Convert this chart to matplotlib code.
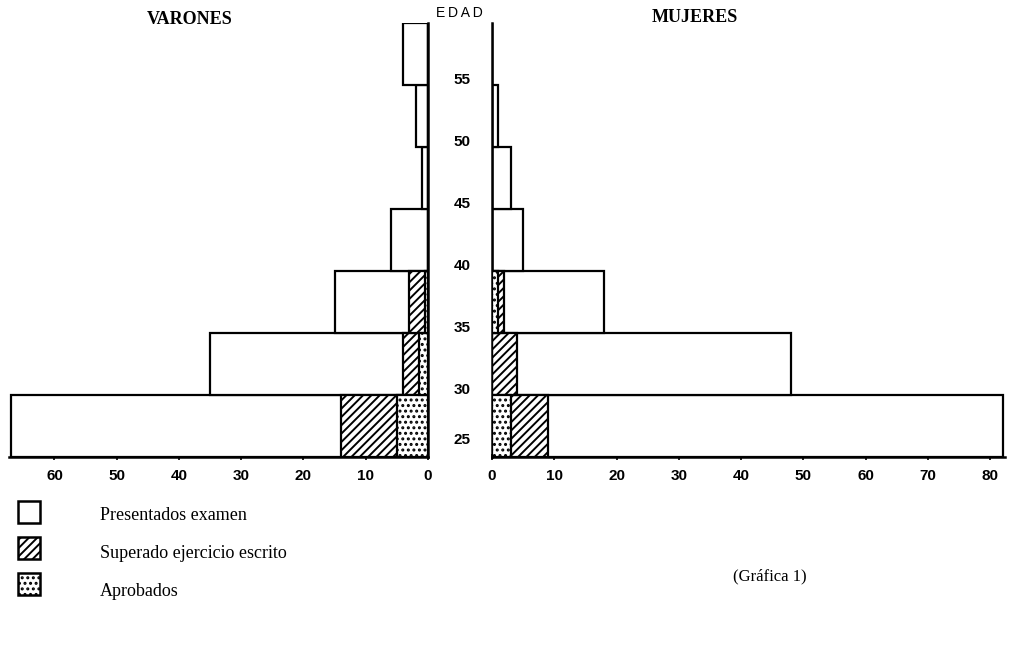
import matplotlib
matplotlib.use("Agg")
import matplotlib.pyplot as plt
from matplotlib.patches import Rectangle
from matplotlib.transforms import blended_transform_factory

# Age groups (lower bound of each 5-year band)
ages = [25, 30, 35, 40, 45, 50, 55]
age_labels = ["25", "30", "35", "40", "45", "50", "55"]

# VARONES
men_presentados = [67, 35, 15, 6, 1, 2, 4]
men_superado = [14, 4, 3, 0, 0, 0, 0]
men_aprobados = [5, 1.5, 0.5, 0, 0, 0, 0]

# MUJERES
women_presentados = [82, 48, 18, 5, 3, 1, 0]
women_superado = [9, 4, 2, 0, 0, 0, 0]
women_aprobados = [3, 0, 1, 0, 0, 0, 0]

men_ticks = [60, 50, 40, 30, 20, 10, 0]
women_ticks = [0, 10, 20, 30, 40, 50, 60, 70, 80]

legend_labels = ["Presentados examen", "Superado ejercicio escrito", "Aprobados"]

plt.rcParams["hatch.linewidth"] = 1.4
SANS = "Liberation Sans"
SERIF = "Liberation Serif"

fig = plt.figure(figsize=(10.09, 6.49), dpi=100)
W, H = 1009, 649

def ax_rect(x0, y0, x1, y1):
    return [x0 / W, 1 - y1 / H, (x1 - x0) / W, (y1 - y0) / H]

ax_l = fig.add_axes(ax_rect(9, 23, 428, 457))
ax_r = fig.add_axes(ax_rect(492, 23, 1005, 457))

lw = 1.6
for ax, pres, sup, apr in [(ax_l, men_presentados, men_superado, men_aprobados),
                           (ax_r, women_presentados, women_superado, women_aprobados)]:
    ax.barh(ages, pres, height=5, align="edge", color="white", edgecolor="black", linewidth=lw, zorder=2)
    ax.barh(ages, sup, height=5, align="edge", color="white", edgecolor="black", linewidth=lw, hatch="////", zorder=3)
    ax.barh(ages, apr, height=5, align="edge", color="white", edgecolor="black", linewidth=lw, hatch="...", zorder=4)
    ax.set_ylim(25, 60)
    ax.set_yticks([])
    ax.spines["top"].set_visible(False)
    for s in ax.spines.values():
        s.set_linewidth(1.8)
    ax.tick_params(axis="x", direction="inout", length=5, width=1.2, pad=6)

ax_l.set_xlim(67.3, 0)
ax_l.spines["left"].set_visible(False)
ax_l.set_xticks(men_ticks)
ax_l.set_xticklabels([str(t) for t in men_ticks], fontfamily=SANS, fontsize=11, fontweight="bold")

ax_r.set_xlim(0, 82.4)
ax_r.spines["right"].set_visible(False)
ax_r.set_xticks(women_ticks)
ax_r.set_xticklabels([str(t) for t in women_ticks], fontfamily=SANS, fontsize=11, fontweight="bold")

# age labels between the panels
tr = blended_transform_factory(ax_r.transAxes, ax_r.transData)
label_y = [a + 0.4 for a in ages]
label_y[0] = ages[0] + 1.4
for y, lab in zip(label_y, age_labels):
    ax_r.text(-0.058, y, lab, transform=tr, ha="center", va="center",
              fontfamily=SANS, fontsize=11, fontweight="bold")

fig.text(459 / W, 1 - 13 / H, "E\u2009D\u2009A\u2009D", ha="center", va="center", fontfamily=SANS, fontsize=10)
fig.text(190 / W, 1 - 19 / H, "VARONES", ha="center", va="center", fontfamily=SERIF, fontsize=13, fontweight="bold")
fig.text(695 / W, 1 - 18 / H, "MUJERES", ha="center", va="center", fontfamily=SERIF, fontsize=13, fontweight="bold")
fig.text(770 / W, 1 - 576 / H, "(Gráfica 1)", ha="center", va="center", fontfamily=SERIF, fontsize=12)

# legend
hatches = [None, "////", "..."]
ys = [512, 548, 584]
text_ys = [516, 553, 591]
for lab, h, yc, ty in zip(legend_labels, hatches, ys, text_ys):
    r = Rectangle((18 / W, 1 - (yc + 11) / H), 22 / W, 22 / H, transform=fig.transFigure,
                  facecolor="white", edgecolor="black", linewidth=1.8, hatch=h)
    fig.patches.append(r)
    fig.text(100 / W, 1 - ty / H, lab, ha="left", va="center", fontfamily=SERIF, fontsize=13)

fig.savefig("out.png", dpi=100)
